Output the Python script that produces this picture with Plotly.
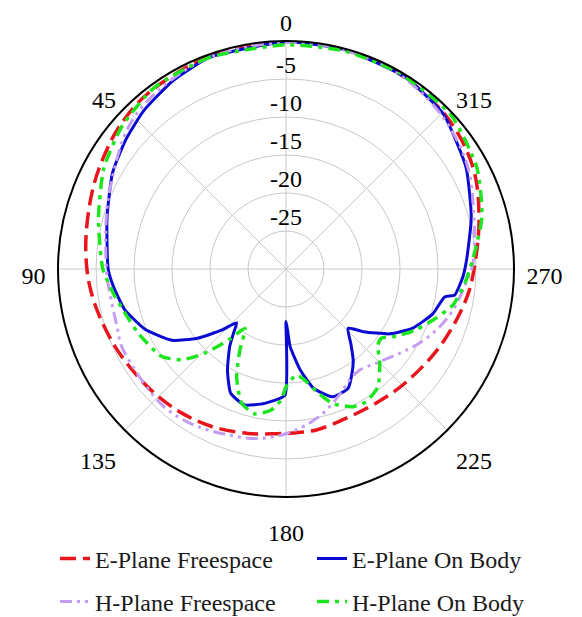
import plotly.graph_objects as go

# ---- data (angle in degrees, gain in dB) ----
e_fs_theta = [0, 20, 38.5, 48.7, 56.7, 67, 80, 90, 97, 104.4, 114.4, 124.6, 133.5, 144, 155, 167, 177,
              182.4, 190.7, 200.7, 211.3, 222.4, 233, 243, 253.3, 262.4, 270.7, 285, 298.5, 313, 330, 345, 360]
e_fs_db = [-0.1, -0.3, -0.62, -1.1, -1.7, -2.45, -3.3, -3.8, -4.2, -4.7, -5.3, -5.85, -6.2, -6.6, -7.1, -7.8, -8.3,
           -8.4, -8.45, -8.8, -8.8, -8.45, -8.0, -7.35, -6.6, -5.8, -5.2, -3.7, -2.0, -0.9, -0.3, -0.1, -0.1]

e_ob_theta = [0, 20, 31, 42, 51, 61, 74, 90, 96, 104, 113, 122, 128, 133.5, 137.4, 140.7, 144, 150, 156, 163,
              171, 179.5, 180, 181.4, 183, 188, 193, 200, 207.5, 211.2, 216.4, 221, 226.3, 231, 238, 245, 253,
              260, 261.2, 267.5, 273, 285.5, 299.4, 314.5, 328, 345, 360]
e_ob_db = [-0.1, -0.4, -1.1, -2.0, -2.9, -3.9, -5.5, -6.6, -7.2, -8.1, -9.8, -12.3, -15.2, -18.3, -20.4, -19.1,
           -17.4, -14.6, -12.1, -11.3, -12.1, -13.4, -23.1, -22.0, -19.8, -16.6, -13.9, -12.1, -12.3, -13.4,
           -15.1, -17.0, -18.7, -16.9, -13.9, -11.6, -9.8, -8.8, -7.55, -6.7, -6.2, -4.7, -2.8, -0.95, -0.3,
           -0.1, -0.1]

h_fs_theta = [0, 20, 36, 48, 65, 74, 91, 98, 109, 115, 124, 133, 140, 150, 161, 170, 178.5, 186, 194.4, 203,
              210, 216, 224, 233.4, 241, 249.4, 256, 264.4, 271.7, 285, 300, 315, 330, 345, 360]
h_fs_db = [-0.2, -0.4, -1.15, -2.1, -4.5, -5.4, -6.4, -6.6, -6.5, -6.1, -6.1, -5.9, -5.8, -6.2, -6.9, -7.35, -8.15,
           -9.1, -10.4, -12.0, -13.2, -13.55, -12.8, -11.4, -9.9, -8.4, -7.4, -6.4, -5.4, -4.4, -2.5, -1.2, -0.4,
           -0.2, -0.2]

h_ob_theta = [0, 20, 36, 49, 61, 75, 90, 98, 105, 113.5, 125, 131, 136, 141, 145.4, 150.4, 155.4, 161.7, 168,
              174, 178, 180, 185.6, 188.8, 194, 199, 206, 211, 218, 224.8, 230.4, 234, 238.7, 245, 252, 258,
              265.4, 272.8, 285, 298, 313, 330, 345, 360]
h_ob_db = [-0.5, -0.4, -0.5, -1.4, -2.6, -4.45, -5.9, -7.05, -8.0, -8.8, -10.0, -11.8, -14.6, -18.0, -20.5, -17.7,
           -14.4, -11.4, -10.5, -11.35, -12.8, -14.5, -16.0, -15.4, -13.4, -11.3, -9.85, -9.6, -10.35, -12.5,
           -14.3, -14.5, -13.0, -11.1, -9.2, -7.5, -6.4, -5.4, -3.3, -1.56, -0.3, -0.2, -0.3, -0.5]

radial_ticks = [-25, -20, -15, -10, -5]
radial_labels = ["-25", "-20", "-15", "-10", "-5"]
angle_ticks = [0, 45, 90, 135, 180, 225, 270, 315]
angle_labels = ["0", "45", "90", "135", "180", "225", "270", "315"]

FONT = '"Liberation Serif", "Times New Roman", Times, serif'

fig = go.Figure()

fig.add_trace(go.Scatterpolar(theta=e_fs_theta, r=e_fs_db, mode="lines", name="E-Plane Freespace",
                              line=dict(color="#e8161c", width=3.5, dash="16px,7px", shape="spline"),
                              legend="legend"))
fig.add_trace(go.Scatterpolar(theta=e_ob_theta, r=e_ob_db, mode="lines", name="E-Plane On Body",
                              line=dict(color="#0a0ad2", width=3, shape="spline", smoothing=0.5),
                              legend="legend"))
fig.add_trace(go.Scatterpolar(theta=h_fs_theta, r=h_fs_db, mode="lines", name="H-Plane Freespace",
                              line=dict(color="#c49df2", width=3, dash="12px,5px,3px,5px,3px,5px",
                                        shape="spline"),
                              legend="legend2"))
fig.add_trace(go.Scatterpolar(theta=h_ob_theta, r=h_ob_db, mode="lines", name="H-Plane On Body",
                              line=dict(color="#1ee61e", width=3.5, dash="12px,6px,4px,6px",
                                        shape="spline", smoothing=0.6),
                              legend="legend2"))

# radial tick labels along the 0-degree spoke
fig.add_trace(go.Scatterpolar(theta=[0] * len(radial_ticks), r=radial_ticks, mode="text", text=radial_labels,
                              textposition="top center", textfont=dict(family=FONT, size=24, color="black"),
                              showlegend=False, hoverinfo="skip"))

# helper subplot that only carries the angular tick labels (sits slightly wider / lower like the source)
fig.add_trace(go.Scatterpolar(theta=angle_ticks, r=[0] * len(angle_ticks), mode="markers",
                              marker=dict(opacity=0, size=1), subplot="polar2",
                              showlegend=False, hoverinfo="skip"))

W, H = 582, 617
fig.update_layout(
    width=W, height=H,
    margin=dict(l=0, r=0, t=0, b=0, autoexpand=False),
    paper_bgcolor="white",
    font=dict(family=FONT, size=24, color="black"),
    polar=dict(
        domain=dict(x=[58 / W, 514 / W], y=[1 - 497 / H, 1 - 41 / H]),
        bgcolor="white",
        angularaxis=dict(direction="counterclockwise", rotation=90,
                         tickmode="array", tickvals=angle_ticks, showticklabels=False,
                         showline=True, linecolor="black", linewidth=2,
                         gridcolor="#c8c8c8", gridwidth=1, ticks=""),
        radialaxis=dict(range=[-30, 0], tickmode="array", tickvals=radial_ticks,
                        showticklabels=False, ticks="", showline=False,
                        gridcolor="#c8c8c8", gridwidth=1),
    ),
    polar2=dict(
        domain=dict(x=[46 / W, 526 / W], y=[1 - 516 / H, 1 - 36 / H]),
        bgcolor="rgba(0,0,0,0)",
        angularaxis=dict(direction="counterclockwise", rotation=90,
                         tickmode="array", tickvals=angle_ticks, ticktext=angle_labels,
                         showline=False, showgrid=False, ticks="",
                         tickfont=dict(family=FONT, size=24, color="black")),
        radialaxis=dict(visible=False, range=[-30, 0]),
    ),
    legend=dict(orientation="h", x=55 / W, xanchor="left", y=1 - 559 / H, yanchor="middle",
                entrywidth=212, entrywidthmode="pixels", bgcolor="rgba(0,0,0,0)",
                font=dict(family=FONT, size=24, color="#1a1a1a")),
    legend2=dict(orientation="h", x=55 / W, xanchor="left", y=1 - 602 / H, yanchor="middle",
                 entrywidth=212, entrywidthmode="pixels", bgcolor="rgba(0,0,0,0)",
                 font=dict(family=FONT, size=24, color="#1a1a1a")),
)

fig.write_html("out.html")
